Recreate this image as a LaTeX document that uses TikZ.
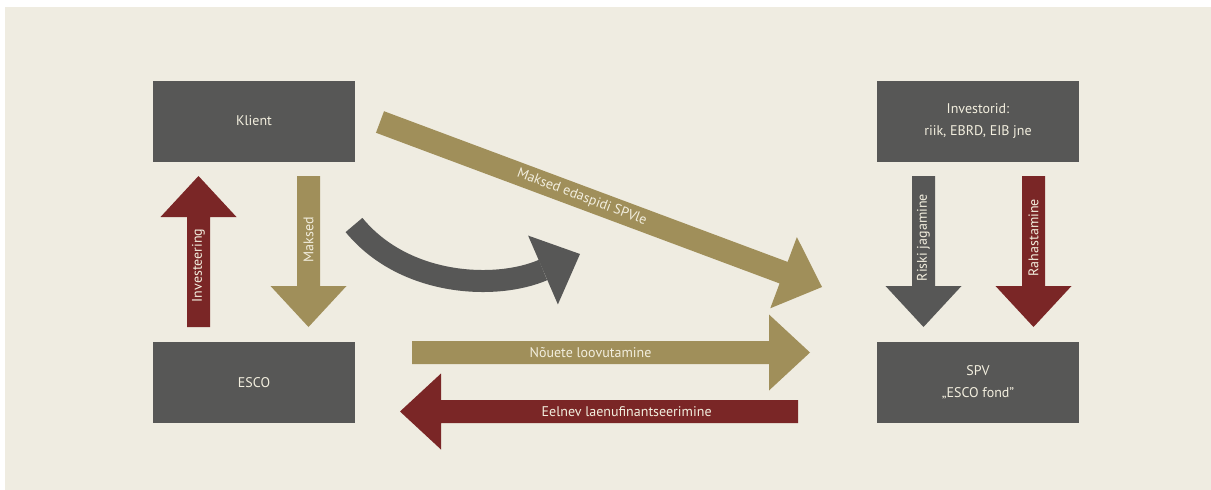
\documentclass[tikz,border=0pt]{standalone}
\usepackage{fontspec}
\setmainfont{PT Sans}
\usepackage{tikz}
\usetikzlibrary{calc}

\definecolor{bgbeige}{RGB}{239,236,225}
\definecolor{boxgrey}{RGB}{87,87,86}
\definecolor{maroon}{RGB}{122,38,38}
\definecolor{khaki}{RGB}{160,143,90}
\definecolor{cream}{RGB}{242,238,222}

\tikzset{
  box/.style={fill=boxgrey, minimum width=202pt, minimum height=81pt, inner sep=0pt,
    text=cream, align=center, font=\fontsize{14}{22}\selectfont},
  lbl/.style={text=cream, inner sep=0pt, font=\fontsize{14}{16}\selectfont},
}

% fat arrow: colour, from, to, label, label rotation, label pos
\newcommand{\blockarrow}[6]{%
  \coordinate (hb) at ($(#3)!41pt!(#2)$);
  \fill[#1] ($(#2)!11.5pt!90:(#3)$) -- ($(hb)!11.5pt!90:(#3)$) -- ($(hb)!38pt!90:(#3)$) -- (#3)
    -- ($(hb)!38pt!-90:(#3)$) -- ($(hb)!11.5pt!-90:(#3)$) -- ($(#2)!11.5pt!-90:(#3)$) -- cycle;
  \node[lbl, rotate=#5] (#2lbl) at ($(#2)!#6!(hb)$) {#4};
}

\begin{document}
\begin{tikzpicture}[x=1pt, y=-1pt]
        \fill[white] (0,0) rectangle (1211,490);
        \useasboundingbox (0,0) rectangle (1211,490);
        \fill[bgbeige] (5,7) rectangle (1211,490);

        \node[box] (klient) at (254,121) {Klient};
        \node[box] (investorid) at (978,121) {Investorid:\\riik, EBRD, EIB jne};
        \node[box] (esco) at (254,382.5) {ESCO};
        \node[box] (spv) at (978,382.5) {SPV\\„ESCO fond”};

        \coordinate (invS) at (198.5,327);
        \coordinate (invE) at (198.5,176);
        \coordinate (makS) at (308.5,176);
        \coordinate (makE) at (308.5,327);
        \coordinate (riskS) at (923.5,176);
        \coordinate (riskE) at (923.5,327);
        \coordinate (rahS) at (1033.5,176);
        \coordinate (rahE) at (1033.5,327);
        \coordinate (nouS) at (412,352.5);
        \coordinate (nouE) at (810,352.5);
        \coordinate (eelS) at (798,411.5);
        \coordinate (eelE) at (400,411.5);
        \coordinate (edaS) at (380,122);
        \coordinate (edaE) at (822,287);

        \blockarrow{maroon}{invS}{invE}{Investeering}{90}{0.56}
        \blockarrow{khaki}{makS}{makE}{Maksed}{90}{0.58}
        \blockarrow{boxgrey}{riskS}{riskE}{Riski jagamine}{90}{0.56}
        \blockarrow{maroon}{rahS}{rahE}{Rahastamine}{90}{0.56}
        \blockarrow{khaki}{nouS}{nouE}{Nõuete loovutamine}{0}{0.5}
        \blockarrow{maroon}{eelS}{eelE}{Eelnev laenufinantseerimine}{0}{0.48}
        \blockarrow{khaki}{edaS}{edaE}{Maksed edaspidi SPVle}{-20.5}{0.5}

        % curved arrow
        \coordinate (cvA) at (354,225);
        \coordinate (cvD) at (543,270);
        \coordinate (cvT) at (580,254);
        \draw[boxgrey, line width=22pt] (cvA) .. controls (405,287) and (497,290) .. (cvD);
        \fill[boxgrey] ($(cvD)!37.5pt!90:(cvT)$) -- (cvT) -- ($(cvD)!37.5pt!-90:(cvT)$) -- cycle;
\end{tikzpicture}
\end{document}
